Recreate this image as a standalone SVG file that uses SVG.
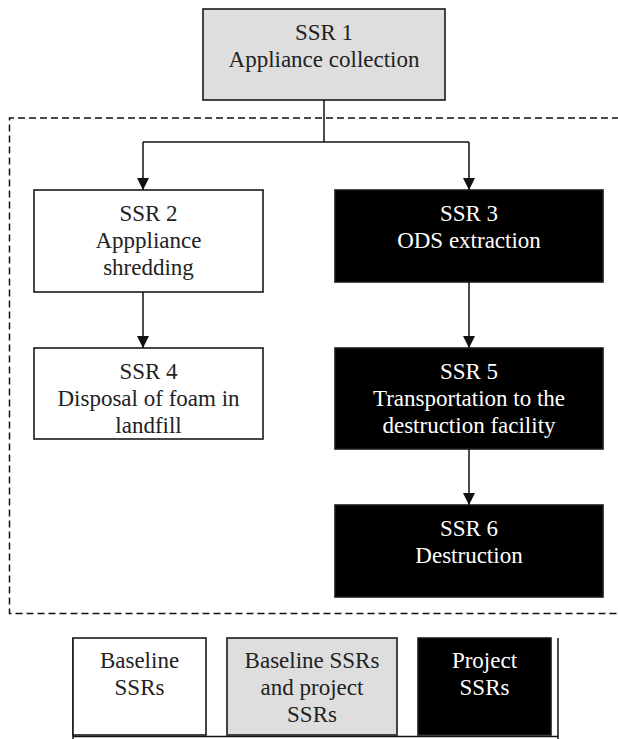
<svg xmlns="http://www.w3.org/2000/svg" width="618" height="739" viewBox="0 0 618 739">
<defs>
<style>
.box{stroke:#1a1a1a;stroke-width:1.6}
.w{fill:#ffffff}
.g{fill:#dedede}
.b{fill:#000000}
.dt{fill:#222222}
.lt{fill:#ffffff}
.con{fill:none;stroke:#111111;stroke-width:1.5}
.dash{fill:none;stroke:#111111;stroke-width:1.5;stroke-dasharray:7 4}
</style>
<marker id="arr" markerWidth="12" markerHeight="12" viewBox="0 0 12 12" refX="12" refY="6" orient="auto" markerUnits="userSpaceOnUse">
<path d="M0,0 L12,6 L0,12 Z" fill="#111111"/>
</marker>
</defs>
<rect width="618" height="739" fill="#ffffff"/>

<path class="dash" d="M630,118 L9.5,118 L9.5,613.5 L630,613.5"/>

<g id="connectors">
<path class="con" d="M324,100 L324,142"/>
<path class="con" d="M143,142 L469,142"/>
<path class="con" d="M143,142 L143,190" marker-end="url(#arr)"/>
<path class="con" d="M469,142 L469,190" marker-end="url(#arr)"/>
<path class="con" d="M143,292 L143,348" marker-end="url(#arr)"/>
<path class="con" d="M469,282 L469,348" marker-end="url(#arr)"/>
<path class="con" d="M469,449 L469,505" marker-end="url(#arr)"/>
</g>

<g font-family="Liberation Serif, Times New Roman, DejaVu Serif, serif" font-size="23" text-anchor="middle">
<g id="ssr1">
<rect class="box g" x="203" y="9" width="242" height="91"/>
<text class="dt" x="324" y="40">SSR 1</text>
<text class="dt" x="324" y="67">Appliance collection</text>
</g>

<g id="ssr2">
<rect class="box w" x="34" y="190" width="229" height="102"/>
<text class="dt" x="148.5" y="221">SSR 2</text>
<text class="dt" x="148.5" y="248">Apppliance</text>
<text class="dt" x="148.5" y="275">shredding</text>
</g>

<g id="ssr3">
<rect class="box b" x="335" y="190" width="268" height="92"/>
<text class="lt" x="469" y="221">SSR 3</text>
<text class="lt" x="469" y="248">ODS extraction</text>
</g>

<g id="ssr4">
<rect class="box w" x="34" y="348" width="229" height="91"/>
<text class="dt" x="148.5" y="379">SSR 4</text>
<text class="dt" x="148.5" y="406">Disposal of foam in</text>
<text class="dt" x="148.5" y="433">landfill</text>
</g>

<g id="ssr5">
<rect class="box b" x="335" y="348" width="268" height="101"/>
<text class="lt" x="469" y="379">SSR 5</text>
<text class="lt" x="469" y="406">Transportation to the</text>
<text class="lt" x="469" y="433">destruction facility</text>
</g>

<g id="ssr6">
<rect class="box b" x="335" y="505" width="268" height="92"/>
<text class="lt" x="469" y="536">SSR 6</text>
<text class="lt" x="469" y="563">Destruction</text>
</g>

<g id="legend">
<path class="con" d="M73,638 L73,739 M558,638 L558,739 M73,736.5 L558,736.5"/>
<g id="legend-baseline">
<rect class="box w" x="73" y="638" width="133" height="97"/>
<text class="dt" x="139.5" y="668">Baseline</text>
<text class="dt" x="139.5" y="695">SSRs</text>
</g>
<g id="legend-both">
<rect class="box g" x="227" y="638" width="170" height="97"/>
<text class="dt" x="312" y="668">Baseline SSRs</text>
<text class="dt" x="312" y="695">and project</text>
<text class="dt" x="312" y="722">SSRs</text>
</g>
<g id="legend-project">
<rect class="box b" x="418" y="638" width="133" height="97"/>
<text class="lt" x="484.5" y="668">Project</text>
<text class="lt" x="484.5" y="695">SSRs</text>
</g>
</g>
</g>
</svg>
